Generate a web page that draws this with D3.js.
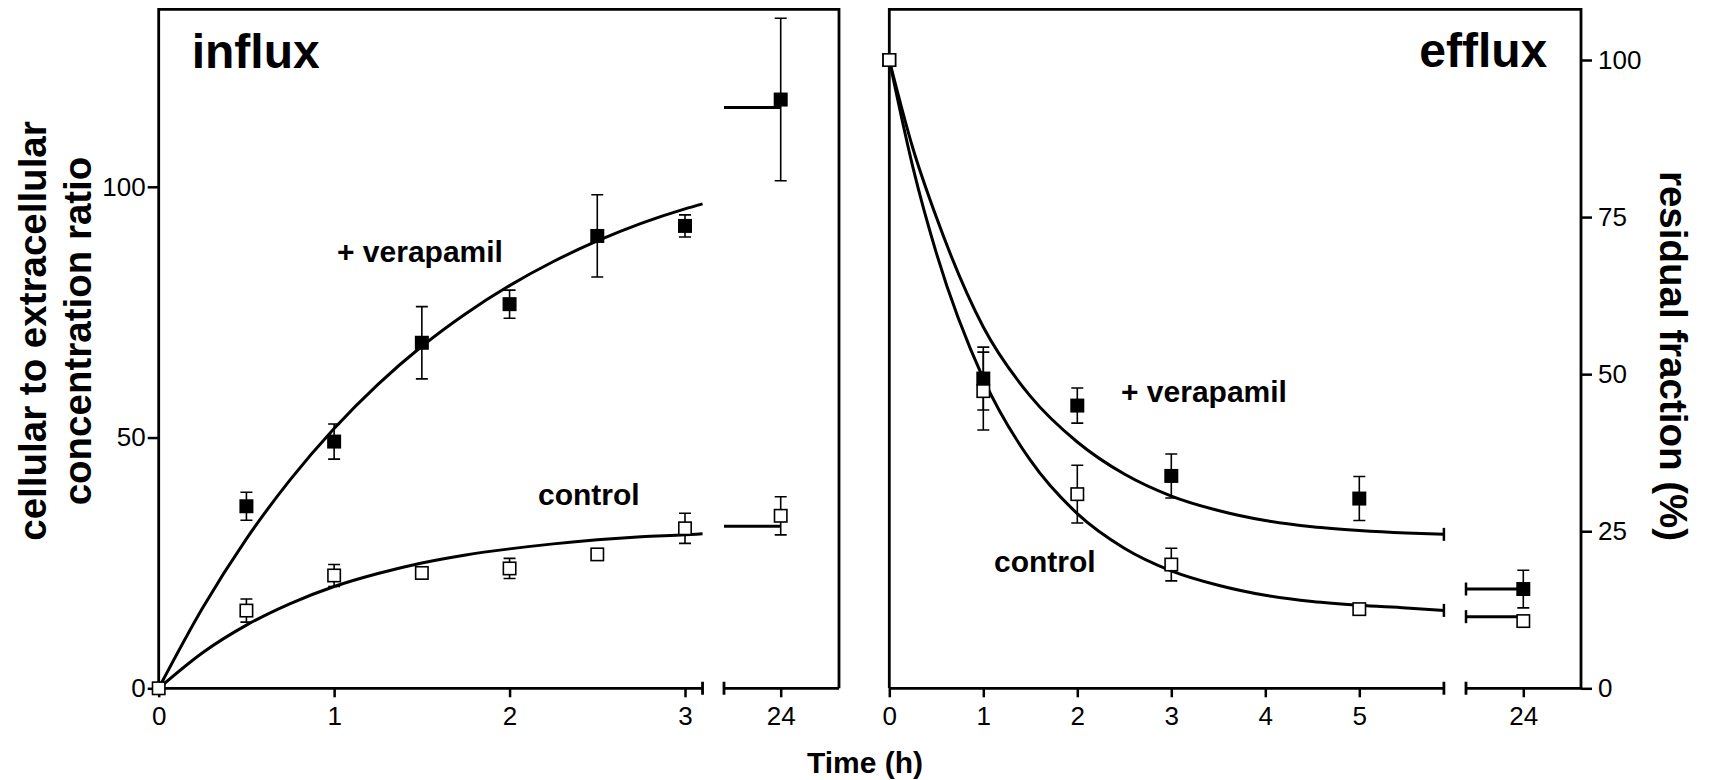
<!DOCTYPE html>
<html><head><meta charset="utf-8">
<script src="https://cdn.jsdelivr.net/npm/d3@7"></script>
<style>
body{margin:0;background:#fff}
svg{display:block}
text{font-family:"Liberation Sans",Arial,Helvetica,sans-serif;fill:#000}
</style>
</head><body>
<svg id="c" width="1713" height="780"></svg>
<script>
// ---------------- DATA ----------------
// influx panel (cellular to extracellular concentration ratio)
const influxVeraTimes = [0.5, 1, 1.5, 2, 2.5, 3];
const influxVera      = [36.3, 49.2, 68.9, 76.6, 90.2, 92.2];
const influxVeraErr   = [2.8, 3.5, 7.2, 2.8, 8.2, 2.2];
const influxCtrlTimes = [0, 0.5, 1, 1.5, 2, 2.5, 3];
const influxCtrl      = [0, 15.5, 22.5, 23.0, 23.9, 26.7, 31.9];
const influxCtrlErr   = [0, 2.3, 2.2, 1.2, 2.0, 0, 3.0];
const influx24Vera = [117.4], influx24VeraErr = [16.2];
const influx24Ctrl = [34.4],  influx24CtrlErr = [3.8];
const influxPlateauVera = [115.8], influxPlateauCtrl = [32.3];
const influxFitTimes = [0, 0.25, 0.5, 0.75, 1, 1.25, 1.5, 1.75, 2, 2.25, 2.5, 2.75, 3, 3.1];
const influxFitVera  = [0, 16, 29.8, 41.6, 51.8, 60.6, 68.2, 74.7, 80.3, 85.1, 89.2, 92.7, 95.6, 96.6];
const influxFitCtrl  = [0, 7.1, 12.6, 16.9, 20.3, 22.9, 25.0, 26.6, 27.8, 28.8, 29.6, 30.2, 30.6, 30.8];

// efflux panel (residual fraction, %)
const effluxTimes   = [0, 1, 2, 3, 5];
const effluxVera    = [100, 49.3, 45.0, 33.8, 30.2];
const effluxVeraErr = [0, 5.0, 2.8, 3.5, 3.5];
const effluxCtrl    = [100, 47.3, 30.9, 19.7, 12.6];
const effluxCtrlErr = [0, 6.2, 4.6, 2.6, 0];
const efflux24Vera = [15.8], efflux24VeraErr = [3.0];
const efflux24Ctrl = [10.7], efflux24CtrlErr = [0];
const effluxPlateauVera = [15.8], effluxPlateauCtrl = [11.4];
const effluxFitTimes = [0, 0.25, 0.5, 1, 1.5, 2, 2.5, 3, 3.5, 4, 4.5, 5, 5.5, 5.9];
const effluxFitVera  = [100, 86, 75, 57.5, 46.5, 39.2, 34.1, 30.6, 28.3, 26.7, 25.7, 25.1, 24.7, 24.5];
const effluxFitCtrl  = [100, 83, 69.3, 49.3, 36.3, 27.8, 22.3, 18.7, 16.4, 14.8, 13.8, 13.2, 12.8, 12.4];

// ticks and labels
const influxXTicks = [0, 1, 2, 3];
const effluxXTicks = [0, 1, 2, 3, 4, 5];
const lateTick = [24];
const influxYTicks = [0, 50, 100];
const effluxYTicks = [0, 25, 50, 75, 100];
const influxAxisEnd = 3.1, effluxAxisEnd = 5.9;
const titles = ["influx", "efflux"];
const seriesLabels = ["+ verapamil", "control"];
const yLabelLeft = ["cellular to extracellular", "concentration ratio"];
const yLabelRight = "residual fraction (%)";
const xLabel = "Time (h)";

// ---------------- LAYOUT ----------------
const svg = d3.select("#c");
const AX = 688.3, TOP = 9.3;
const LW = 2.8;

const xL = d3.scaleLinear().domain([0, 3]).range([158.7, 685]);
const xL24 = d3.scaleLinear().domain([24, 25]).range([780.7, 956.1]);
const yL = d3.scaleLinear().domain([0, 100]).range([AX, 186.8]);
const Lseg2 = [724, 839];

const xR = d3.scaleLinear().domain([0, 5]).range([889.3, 1359.3]);
const xR24 = d3.scaleLinear().domain([24, 25]).range([1523.3, 1617.3]);
const yR = d3.scaleLinear().domain([0, 100]).range([AX, 60]);
const Rseg2 = [1466, 1581];

const CAP = 6.5;

function frame(x0, x1, brkEnd, seg2) {
  svg.append("path")
    .attr("d", `M${x0},${AX}V${TOP}H${x1}V${AX}`)
    .attr("fill", "none").attr("stroke", "#000").attr("stroke-width", LW);
  svg.append("path")
    .attr("d", `M${x0},${AX}H${brkEnd}M${brkEnd},${AX - CAP}V${AX + CAP}M${seg2[0]},${AX - CAP}V${AX + CAP}M${seg2[0]},${AX}H${seg2[1]}`)
    .attr("fill", "none").attr("stroke", "#000").attr("stroke-width", LW);
}
frame(xL(0), Lseg2[1], xL(influxAxisEnd), Lseg2);
frame(xR(0), Rseg2[1], xR(effluxAxisEnd), Rseg2);

function styleAxis(g, fs) {
  g.select(".domain").remove();
  g.selectAll(".tick line").attr("stroke", "#000").attr("stroke-width", 2.5);
  g.selectAll(".tick text").attr("font-size", fs).attr("fill", "#000")
    .attr("font-family", "'Liberation Sans',Arial,sans-serif");
}
const fmt = d3.format("d");
const bottom = (sc, ticks) => {
  const g = svg.append("g").attr("transform", `translate(0,${AX})`)
    .call(d3.axisBottom(sc).tickValues(ticks).tickSize(9).tickSizeOuter(0).tickPadding(9).tickFormat(fmt));
  styleAxis(g, 26);
};
bottom(xL, influxXTicks); bottom(xL24, lateTick);
bottom(xR, effluxXTicks); bottom(xR24, lateTick);

const gyl = svg.append("g").attr("transform", `translate(${xL(0)},0)`)
  .call(d3.axisLeft(yL).tickValues(influxYTicks).tickSize(11).tickPadding(2).tickSizeOuter(0).tickFormat(fmt));
styleAxis(gyl, 26);
const gyr = svg.append("g").attr("transform", `translate(${Rseg2[1]},0)`)
  .call(d3.axisRight(yR).tickValues(effluxYTicks).tickSize(11).tickPadding(6).tickSizeOuter(0).tickFormat(fmt));
styleAxis(gyr, 26);

// ---------------- CURVES ----------------
function curve(xs, ys, xsc, ysc) {
  const pts = xs.map((t, i) => [xsc(t), ysc(ys[i])]);
  svg.append("path").attr("d", d3.line().curve(d3.curveMonotoneX)(pts))
    .attr("fill", "none").attr("stroke", "#000").attr("stroke-width", 3);
  return pts[pts.length - 1];
}
curve(influxFitTimes, influxFitVera, xL, yL);
curve(influxFitTimes, influxFitCtrl, xL, yL);
[effluxFitVera, effluxFitCtrl].forEach(ys => {
  const e = curve(effluxFitTimes, ys, xR, yR);
  svg.append("line").attr("x1", e[0]).attr("x2", e[0]).attr("y1", e[1] - CAP).attr("y2", e[1] + CAP)
    .attr("stroke", "#000").attr("stroke-width", 2.5);
});

// plateau lines at 24 h
function plateau(v, x0, xsc, ysc, cap) {
  const y = ysc(v);
  svg.append("line").attr("x1", x0).attr("x2", xsc(24)).attr("y1", y).attr("y2", y)
    .attr("stroke", "#000").attr("stroke-width", 3);
  if (cap) svg.append("line").attr("x1", x0).attr("x2", x0).attr("y1", y - CAP).attr("y2", y + CAP)
    .attr("stroke", "#000").attr("stroke-width", 2.5);
}
plateau(influxPlateauVera[0], Lseg2[0], xL24, yL, false);
plateau(influxPlateauCtrl[0], Lseg2[0], xL24, yL, false);
plateau(effluxPlateauVera[0], Rseg2[0], xR24, yR, true);
plateau(effluxPlateauCtrl[0], Rseg2[0], xR24, yR, true);

// ---------------- POINTS ----------------
const S = 14;
function points(xs, ys, es, xsc, ysc, filled) {
  const g = svg.append("g");
  xs.forEach((t, i) => {
    const x = xsc(t), v = ys[i], e = es[i];
    if (e > 0) {
      const y1 = ysc(v + e), y2 = ysc(v - e);
      g.append("path").attr("d", `M${x},${y1}V${y2}M${x - 6},${y1}H${x + 6}M${x - 6},${y2}H${x + 6}`)
        .attr("fill", "none").attr("stroke", "#000").attr("stroke-width", 1.6);
    }
  });
  xs.forEach((t, i) => {
    const x = xsc(t), y = ysc(ys[i]);
    if (filled) g.append("rect").attr("x", x - S / 2).attr("y", y - S / 2).attr("width", S).attr("height", S).attr("fill", "#000");
    else g.append("rect").attr("x", x - (S - 1.6) / 2).attr("y", y - (S - 1.6) / 2).attr("width", S - 1.6).attr("height", S - 1.6)
      .attr("fill", "#fff").attr("stroke", "#000").attr("stroke-width", 1.6);
  });
}
points(influxVeraTimes, influxVera, influxVeraErr, xL, yL, true);
points(lateTick, influx24Vera, influx24VeraErr, xL24, yL, true);
points(influxCtrlTimes, influxCtrl, influxCtrlErr, xL, yL, false);
points(lateTick, influx24Ctrl, influx24CtrlErr, xL24, yL, false);
points(effluxTimes, effluxVera, effluxVeraErr, xR, yR, true);
points(lateTick, efflux24Vera, efflux24VeraErr, xR24, yR, true);
points(effluxTimes, effluxCtrl, effluxCtrlErr, xR, yR, false);
points(lateTick, efflux24Ctrl, efflux24CtrlErr, xR24, yR, false);

// ---------------- TEXT ----------------
const bold = (x, y, s, fs, anchor) => svg.append("text").attr("x", x).attr("y", y)
  .attr("font-size", fs).attr("font-weight", "bold").attr("text-anchor", anchor || "start").text(s);
bold(191.7, 68.3, titles[0], 48);
bold(1547.3, 66.7, titles[1], 48, "end");
bold(337, 262, seriesLabels[0], 30);
bold(538, 505, seriesLabels[1], 30);
bold(1121, 402, seriesLabels[0], 30);
bold(994, 572, seriesLabels[1], 30);
bold(865, 773, xLabel, 30, "middle");

svg.append("text").attr("transform", "translate(46,331) rotate(-90)")
  .attr("font-size", 38.5).attr("font-weight", "bold").attr("text-anchor", "middle").text(yLabelLeft[0]);
svg.append("text").attr("transform", "translate(91,331) rotate(-90)")
  .attr("font-size", 38.5).attr("font-weight", "bold").attr("text-anchor", "middle").text(yLabelLeft[1]);
svg.append("text").attr("transform", "translate(1660,356) rotate(90)")
  .attr("font-size", 38.5).attr("font-weight", "bold").attr("text-anchor", "middle").text(yLabelRight);
</script>
</body></html>
